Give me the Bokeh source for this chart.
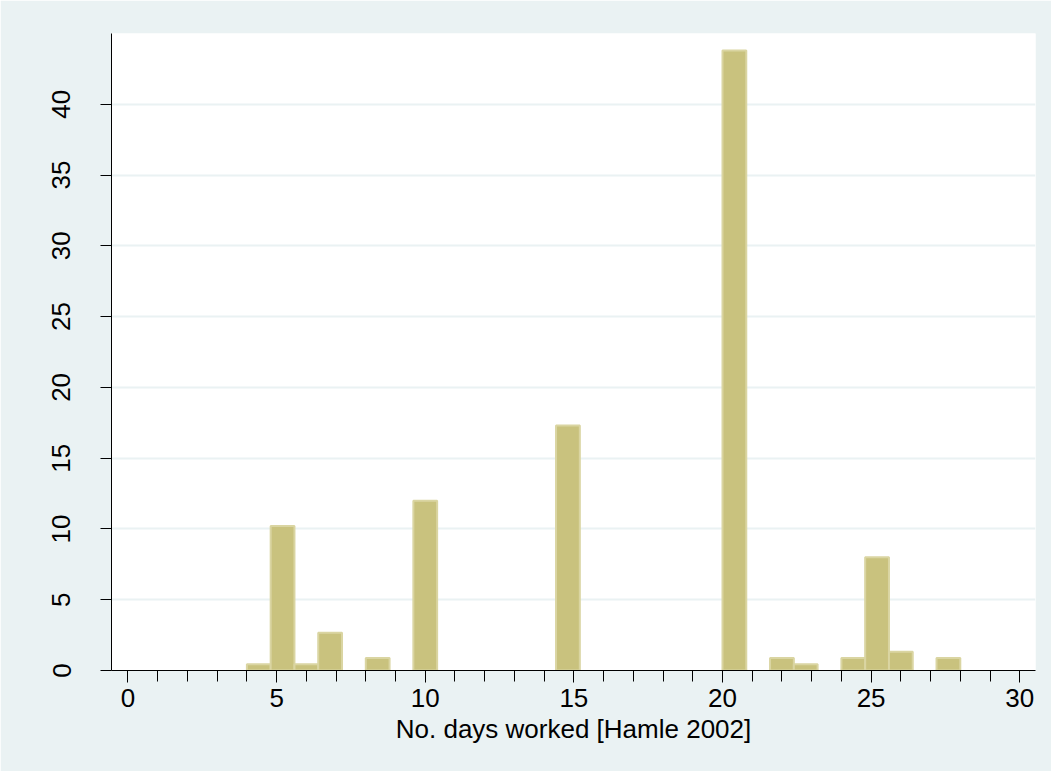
from bokeh.plotting import figure
from bokeh.models import Range1d, FixedTicker
from bokeh.embed import file_html
from bokeh.resources import INLINE

# Data: histogram bins (left edges) and percent heights
bin_width = 0.8
bin_left = [4.0, 4.8, 5.6, 6.4, 8.0, 9.6, 14.4, 20.0, 21.6, 22.4, 24.0, 24.8, 25.6, 27.2]
percent = [0.44, 10.2, 0.44, 2.67, 0.89, 12.0, 17.3, 43.8, 0.89, 0.44, 0.89, 8.0, 1.33, 0.89]
x_ticks = [0, 5, 10, 15, 20, 25, 30]
x_minor = list(range(0, 31))
y_ticks = [0, 5, 10, 15, 20, 25, 30, 35, 40]
x_title = "No. days worked [Hamle 2002]"

BG = "#EAF2F3"
FONT = "Liberation Sans"

p = figure(width=1051, height=771, output_backend="svg", toolbar_location=None,
           x_range=Range1d(-0.555, 30.53), y_range=Range1d(0, 45),
           min_border_left=111, min_border_right=16, min_border_top=33, min_border_bottom=101)
p.background_fill_color = "white"
p.border_fill_color = BG
p.outline_line_color = None

bin_right = [b + bin_width for b in bin_left]
p.quad(left=bin_left, right=bin_right, bottom=0, top=percent,
       fill_color="#C9C27E", line_color="#DAD5A2", line_width=2)

# x axis
xa = p.xaxis[0]
xa.ticker = FixedTicker(ticks=x_ticks, minor_ticks=x_minor)
xa.axis_label = x_title
xa.axis_label_text_font = FONT
xa.axis_label_text_font_size = "26px"
xa.axis_label_text_font_style = "normal"
xa.axis_label_text_color = "black"
xa.axis_label_standoff = 4
xa.major_label_text_font = FONT
xa.major_label_text_font_size = "26px"
xa.major_label_text_color = "black"
xa.major_label_standoff = 6
xa.major_tick_out = 12
xa.major_tick_in = 0
xa.minor_tick_out = 11
xa.minor_tick_in = 0
xa.axis_line_color = "black"
xa.major_tick_line_color = "black"
xa.minor_tick_line_color = "black"

# y axis
ya = p.yaxis[0]
ya.ticker = FixedTicker(ticks=y_ticks, minor_ticks=[])
ya.major_label_orientation = "vertical"
ya.major_label_text_font = FONT
ya.major_label_text_font_size = "26px"
ya.major_label_text_color = "black"
ya.major_label_standoff = 30
ya.major_tick_out = 11
ya.major_tick_in = 0
ya.minor_tick_line_color = None
ya.axis_line_color = "black"
ya.major_tick_line_color = "black"

p.xgrid.visible = False
p.ygrid.grid_line_color = BG
p.ygrid.grid_line_width = 2

open("out.html", "w").write(file_html(p, INLINE))
